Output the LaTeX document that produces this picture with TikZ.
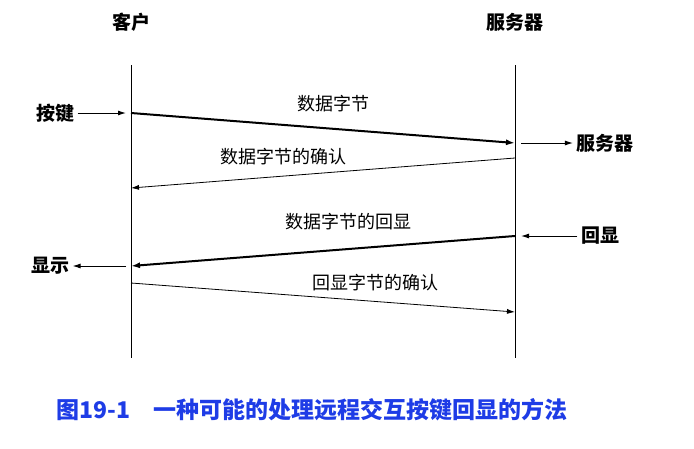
\documentclass[tikz,border=0pt]{standalone}
\usepackage{fontspec}
\setmainfont{Noto Sans CJK SC}
\usetikzlibrary{positioning,arrows.meta}

\tikzset{
  heavy/.style={-{Latex[length=9pt,width=6pt]}, line width=2pt},
  light/.style={-{Latex[length=8pt,width=5pt]}, line width=0.8pt},
  side/.style={-{Latex[length=8pt,width=5pt]}, line width=1pt},
  tag/.style={font=\fontsize{19}{19}\selectfont\bfseries},
  msg/.style={font=\fontsize{18}{18}\selectfont}
}

\begin{document}
\begin{tikzpicture}[x=1pt,y=-1pt]
  \useasboundingbox (0,0) rectangle (694,448);

  % lifelines
  \node[tag] (client) at (131,22) {客户};
  \node[tag] (server) at (515,22) {服务器};
  \draw[line width=1pt] (131,65) -- (131,358);
  \draw[line width=1pt] (515,65) -- (515,358);

  % points on the lifelines
  \coordinate (c1) at (131,113);
  \coordinate (s1) at (515,143);
  \coordinate (s2) at (515,158);
  \coordinate (c2) at (131,188);
  \coordinate (s3) at (515,236);
  \coordinate (c3) at (131,266);
  \coordinate (c4) at (131,283);
  \coordinate (s4) at (515,312);

  % messages
  \draw[heavy] (c1) -- (s1);
  \node[msg] (m1) at (333,104) {数据字节};
  \draw[light] (s2) -- (c2);
  \node[msg] (m2) at (283,157) {数据字节的确认};
  \draw[heavy] (s3) -- (c3);
  \node[msg] (m3) at (348,222) {数据字节的回显};
  \draw[light] (c4) -- (s4);
  \node[msg] (m4) at (375,283) {回显字节的确认};

  % side events
  \node[tag] (key) at (55,113) {按键};
  \draw[side] (key.east) -- ([xshift=-5pt]c1);
  \node[tag] (srv) at (605,143) {服务器};
  \draw[side] ([xshift=6pt]s1) -- (srv.west);
  \node[tag] (echo) at (600,236) {回显};
  \draw[side] (echo.west) -- ([xshift=6pt]s3);
  \node[tag] (show) at (50,266) {显示};
  \draw[side] ([xshift=-5pt]c3) -- (show.east);

  % caption
  \node[font=\fontsize{23}{23}\selectfont\bfseries, text={rgb,255:red,30;green,60;blue,230}] (cap) at (312,410)
    {图19-1\quad 一种可能的处理远程交互按键回显的方法};
\end{tikzpicture}
\end{document}
